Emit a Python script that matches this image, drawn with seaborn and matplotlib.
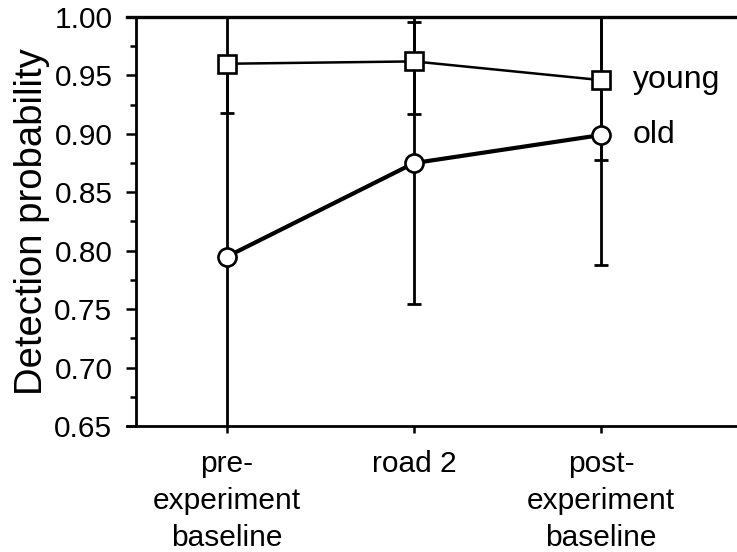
import matplotlib
matplotlib.use("Agg")
import matplotlib.pyplot as plt
import seaborn as sns
import pandas as pd
from matplotlib.ticker import MultipleLocator

# conditions on the x axis
conditions = ["pre-\nexperiment\nbaseline", "road 2", "post-\nexperiment\nbaseline"]
# mean detection probability per group
young_mean = [0.960, 0.962, 0.946]
old_mean = [0.795, 0.875, 0.899]
# error bar half lengths
young_err = [0.042, 0.045, 0.068]
old_err = [0.170, 0.121, 0.111]
groups = ["young", "old"]

df = pd.DataFrame({
    "condition": conditions * 2,
    "group": [groups[0]] * 3 + [groups[1]] * 3,
    "prob": young_mean + old_mean,
    "err": young_err + old_err,
})

sns.set_style("ticks")
plt.rcParams["font.family"] = ["Liberation Sans", "DejaVu Sans"]
plt.rcParams.update({"text.color": "black", "axes.labelcolor": "black",
                     "xtick.color": "black", "ytick.color": "black",
                     "axes.edgecolor": "black"})

fig = plt.figure(figsize=(7.37, 5.52), dpi=100)
ax = fig.add_axes([136 / 737, 126 / 552, 601 / 737, 409 / 552])

styles = {"young": dict(marker="s", lw=1.8), "old": dict(marker="o", lw=3.0)}

for g in groups:
    sub = df[df["group"] == g]
    ax.errorbar(range(len(sub)), sub["prob"], yerr=sub["err"], fmt="none",
                ecolor="black", elinewidth=2.0, capsize=5, capthick=2.0, zorder=2)
    sns.lineplot(data=sub, x="condition", y="prob", ax=ax, color="black",
                 marker=styles[g]["marker"], lw=styles[g]["lw"], markersize=13,
                 markerfacecolor="white", markeredgecolor="black",
                 markeredgewidth=1.9, sort=False, zorder=3)
    ax.annotate(g, xy=(len(sub) - 1, sub["prob"].iloc[-1]), xytext=(23, 0),
                textcoords="offset points", va="center", ha="left", fontsize=23)

ax.set_xlim(-0.487, 2.727)
ax.set_ylim(0.65, 1.0)
ax.set_xticks(range(len(conditions)))
ax.set_xticklabels(conditions, fontsize=21.5, linespacing=1.42)
ax.yaxis.set_major_locator(MultipleLocator(0.05))
ax.yaxis.set_minor_locator(MultipleLocator(0.025))
ax.set_yticklabels([f"{v:.2f}" for v in ax.get_yticks()], fontsize=21.5)
ax.tick_params(axis="y", which="major", length=7, width=1.8, pad=10)
ax.tick_params(axis="y", which="minor", length=4, width=1.8)
ax.tick_params(axis="x", which="major", length=5, width=1.8, pad=12)
ax.set_xlabel("")
ax.set_ylabel("Detection probability", fontsize=27.5, labelpad=3)

ax.spines["right"].set_visible(False)
for s in ["left", "top", "bottom"]:
    ax.spines[s].set_linewidth(2.0)
ax.spines["top"].set_bounds(-0.535, 2.727)
ax.spines["bottom"].set_bounds(-0.535, 2.727)
ax.spines["top"].set_linewidth(2.4)

fig.savefig("out.png", dpi=100)
